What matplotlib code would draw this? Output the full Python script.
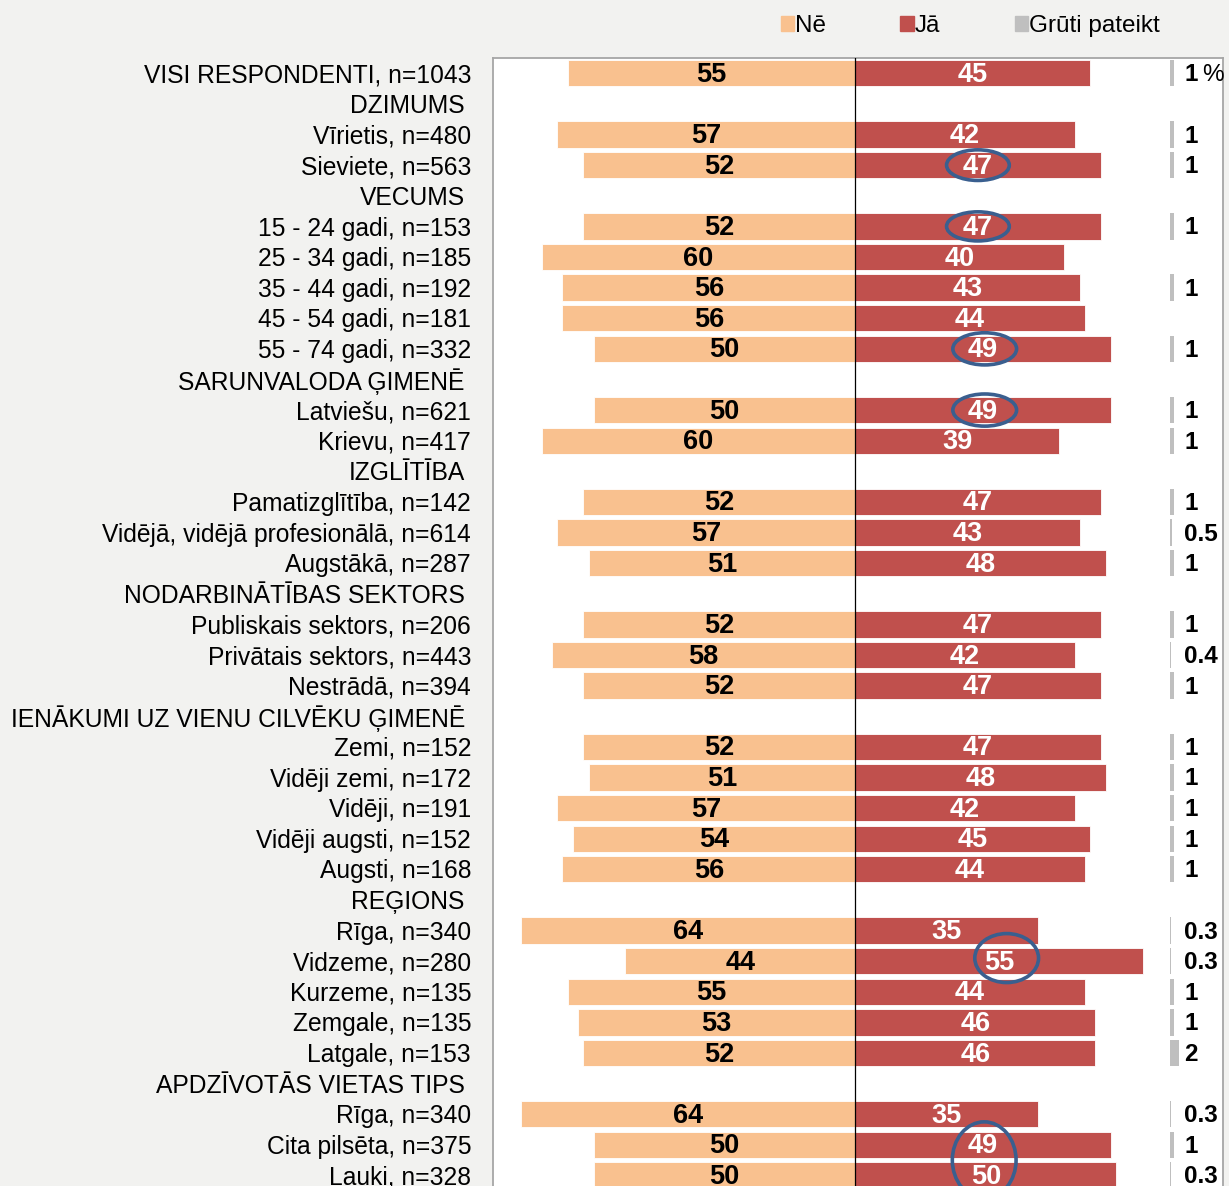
import matplotlib.pyplot as plt
from matplotlib.patches import Patch, Ellipse

plt.rcParams['font.family'] = ['Liberation Sans', 'DejaVu Sans']

# rows (None values = group header)
labels = [
    "VISI RESPONDENTI, n=1043", "DZIMUMS", "Vīrietis, n=480", "Sieviete, n=563",
    "VECUMS", "15 - 24 gadi, n=153", "25 - 34 gadi, n=185", "35 - 44 gadi, n=192",
    "45 - 54 gadi, n=181", "55 - 74 gadi, n=332", "SARUNVALODA ĢIMENĒ",
    "Latviešu, n=621", "Krievu, n=417", "IZGLĪTĪBA", "Pamatizglītība, n=142",
    "Vidējā, vidējā profesionālā, n=614", "Augstākā, n=287", "NODARBINĀTĪBAS SEKTORS",
    "Publiskais sektors, n=206", "Privātais sektors, n=443", "Nestrādā, n=394",
    "IENĀKUMI UZ VIENU CILVĒKU ĢIMENĒ", "Zemi, n=152", "Vidēji zemi, n=172",
    "Vidēji, n=191", "Vidēji augsti, n=152", "Augsti, n=168", "REĢIONS",
    "Rīga, n=340", "Vidzeme, n=280", "Kurzeme, n=135", "Zemgale, n=135",
    "Latgale, n=153", "APDZĪVOTĀS VIETAS TIPS", "Rīga, n=340",
    "Cita pilsēta, n=375", "Lauki, n=328",
]
ne = [55, None, 57, 52, None, 52, 60, 56, 56, 50, None, 50, 60, None, 52, 57, 51,
      None, 52, 58, 52, None, 52, 51, 57, 54, 56, None, 64, 44, 55, 53, 52, None,
      64, 50, 50]
ja = [45, None, 42, 47, None, 47, 40, 43, 44, 49, None, 49, 39, None, 47, 43, 48,
      None, 47, 42, 47, None, 47, 48, 42, 45, 44, None, 35, 55, 44, 46, 46, None,
      35, 49, 50]
gruti = [1, None, 1, 1, None, 1, None, 1, None, 1, None, 1, 1, None, 1, 0.5, 1,
         None, 1, 0.4, 1, None, 1, 1, 1, 1, 1, None, 0.3, 0.3, 1, 1, 2, None,
         0.3, 1, 0.3]
# highlighted "Jā" values: (row, dx, dy, width, height)
circles = [(3, 0, 0, 12, 1.0), (5, 0, 0, 12, 0.95), (9, 0.3, 0, 12.2, 1.05),
           (11, 0.3, 0, 12.2, 1.05), (29, 1.5, -0.1, 12.2, 1.6),
           (35, 0.2, 0.5, 12.2, 2.5)]

c_ne = '#F9C18F'
c_ja = '#C0504D'
c_gr = '#BFBFBF'
c_circ = '#3A5F8F'
bg = '#F2F2F0'
gr_off = 60.2

fig = plt.figure(figsize=(12.29, 11.86), dpi=100, facecolor=bg)
ax = fig.add_axes([493/1229, -0.0169, 730/1229, 0.9511 + 0.0169])
ax.set_facecolor('white')

rows = list(range(len(labels)))
for i in rows:
    if ne[i] is None:
        ax.text(-74.7, i + 0.07, labels[i], ha='right', va='center',
                fontsize=17.7, clip_on=False)
        continue
    ax.text(-73.5, i + 0.07, labels[i], ha='right', va='center', fontsize=17.7,
            clip_on=False)
    ax.barh(i, -ne[i], height=0.86, color=c_ne, edgecolor='white', linewidth=0.6)
    ax.barh(i, ja[i], height=0.86, color=c_ja, edgecolor='white', linewidth=0.6)
    ax.text(-ne[i] / 2, i + 0.05, str(ne[i]), ha='center', va='center',
            fontsize=19.5, fontweight='bold', color='black')
    ax.text(ja[i] / 2, i + 0.05, str(ja[i]), ha='center', va='center',
            fontsize=19.5, fontweight='bold', color='white')
    if gruti[i] is not None:
        ax.barh(i, gruti[i] * 0.85, left=gr_off, height=0.86, color=c_gr)
        ax.text(63.0, i + 0.05, f"{gruti[i]:g}", ha='left', va='center',
                fontsize=17.5, fontweight='bold', color='black')
ax.text(66.4, 0.05, "%", ha='left', va='center', fontsize=17.5, color='black')

for r, dx, dy, w, h in circles:
    ax.add_patch(Ellipse((ja[r] / 2 + dx, r + dy), w, h, fill=False,
                         edgecolor=c_circ, linewidth=2.6, zorder=5))

ax.axvline(0, color='black', linewidth=0.9, zorder=4)
ax.set_xlim(-69.3, 70.4)
ax.set_ylim(37.0, -0.5)
ax.set_xticks([])
ax.set_yticks([])
for s in ax.spines.values():
    s.set_color('#A6A6A6')
    s.set_linewidth(1.3)

handles = [Patch(color=c_ne), Patch(color=c_ja), Patch(color=c_gr)]
fig.legend(handles, ['Nē', 'Jā', 'Grūti pateikt'], loc='center left',
           bbox_to_anchor=(771/1229, 1 - 26/1186), ncol=3, frameon=False,
           fontsize=17.5, handlelength=0.55, handleheight=0.55,
           handletextpad=0.05, columnspacing=3.05, borderaxespad=0)

fig.savefig('out.png', dpi=100, facecolor=bg)
